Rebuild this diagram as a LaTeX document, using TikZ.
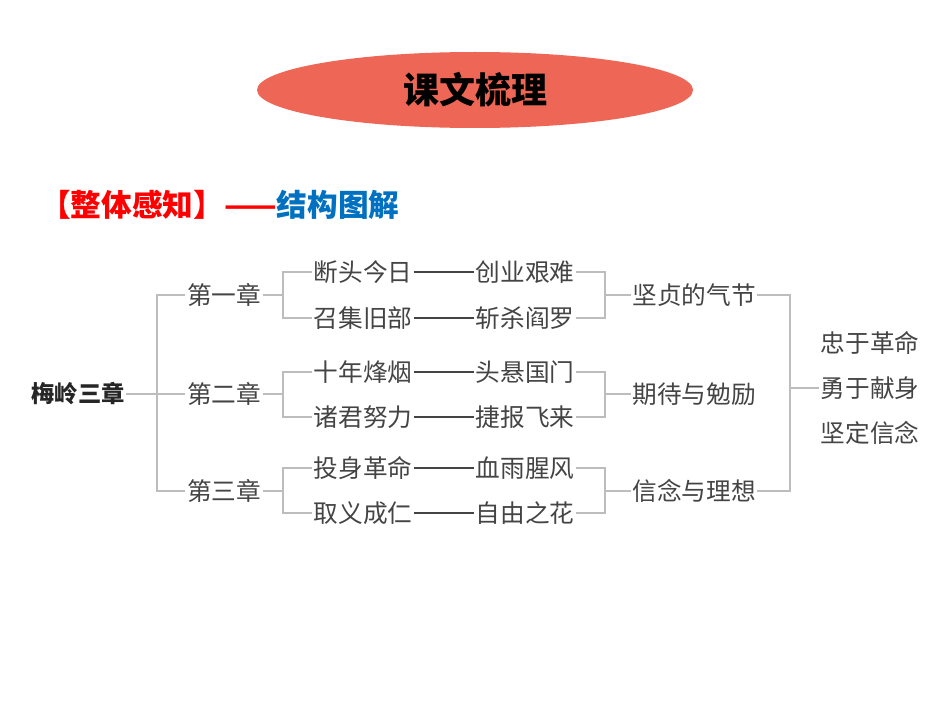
\documentclass[tikz,border=0pt]{standalone}
\usepackage{fontspec}
\setmainfont{Noto Sans CJK SC}
\usetikzlibrary{shapes.geometric}
\definecolor{ttl}{HTML}{EE6655}
\definecolor{lnc}{HTML}{BDBDBD}
\definecolor{txc}{HTML}{444444}
\definecolor{hred}{HTML}{FF0000}
\definecolor{hblue}{HTML}{0070C0}
\begin{document}
\begin{tikzpicture}[x=0.75pt,y=-0.75pt,
  t/.style={text=txc,font=\fontsize{18.5pt}{20pt}\selectfont,inner sep=1pt},
  ln/.style={draw=lnc,line width=2.2pt},
  dl/.style={draw=txc,line width=0.9pt}]
\useasboundingbox (0,0) rectangle (950,713);
\node[ellipse,fill=ttl,minimum width=327pt,minimum height=57pt] (title) at (475,90) {};
\node[font=\fontsize{27pt}{30pt}\selectfont\bfseries] (tt) at (475,90) {课文梳理};
\node[anchor=west,font=\fontsize{23pt}{26pt}\selectfont\bfseries,inner sep=0] (head) at (40,205) {\textcolor{hred}{【整体感知】——}\textcolor{hblue}{结构图解}};
\node[t,font=\fontsize{17.5pt}{20pt}\selectfont\bfseries,text=black!85] (root) at (78,394) {梅岭三章};
\node[t] (c1) at (224,295) {第一章};
\node[t] (c2) at (224,394) {第二章};
\node[t] (c3) at (224,491) {第三章};
\foreach \n/\a/\b/\y in {a1/断头今日/创业艰难/272,a2/召集旧部/斩杀阎罗/318,a3/十年烽烟/头悬国门/372,a4/诸君努力/捷报飞来/417,a5/投身革命/血雨腥风/468,a6/取义成仁/自由之花/513}{
  \node[t] (\n l) at (363,\y) {\a};
  \node[t] (\n r) at (525,\y) {\b};
  \draw[dl] (\n l.east) -- (\n r.west);
}
\node[t] (m1) at (694,295) {坚贞的气节};
\node[t] (m2) at (694,394) {期待与勉励};
\node[t] (m3) at (694,491) {信念与理想};
\node[t] (f1) at (870,343) {忠于革命};
\node[t] (f2) at (870,388) {勇于献身};
\node[t] (f3) at (870,433) {坚定信念};
\draw[ln] (root.east) -- (157,394);
\draw[ln] (c1.west) -- (157,295) -- (157,491) -- (c3.west);
\draw[ln] (157,394) -- (c2.west);
\foreach \c/\u/\d/\y in {c1/a1/a2/295,c2/a3/a4/394,c3/a5/a6/491}{
  \draw[ln] (\c.east) -- (283,\y);
  \draw[ln] (\u l.west) -| (283,\y) |- (\d l.west);
}
\foreach \m/\u/\d/\y in {m1/a1/a2/295,m2/a3/a4/394,m3/a5/a6/491}{
  \draw[ln] (\u r.east) -| (605,\y) |- (\d r.east);
  \draw[ln] (605,\y) -- (\m.west);
}
\draw[ln] (m1.east) -| (790,388) |- (m3.east);
\draw[ln] (790,388) -- (f2.west);
\end{tikzpicture}
\end{document}
